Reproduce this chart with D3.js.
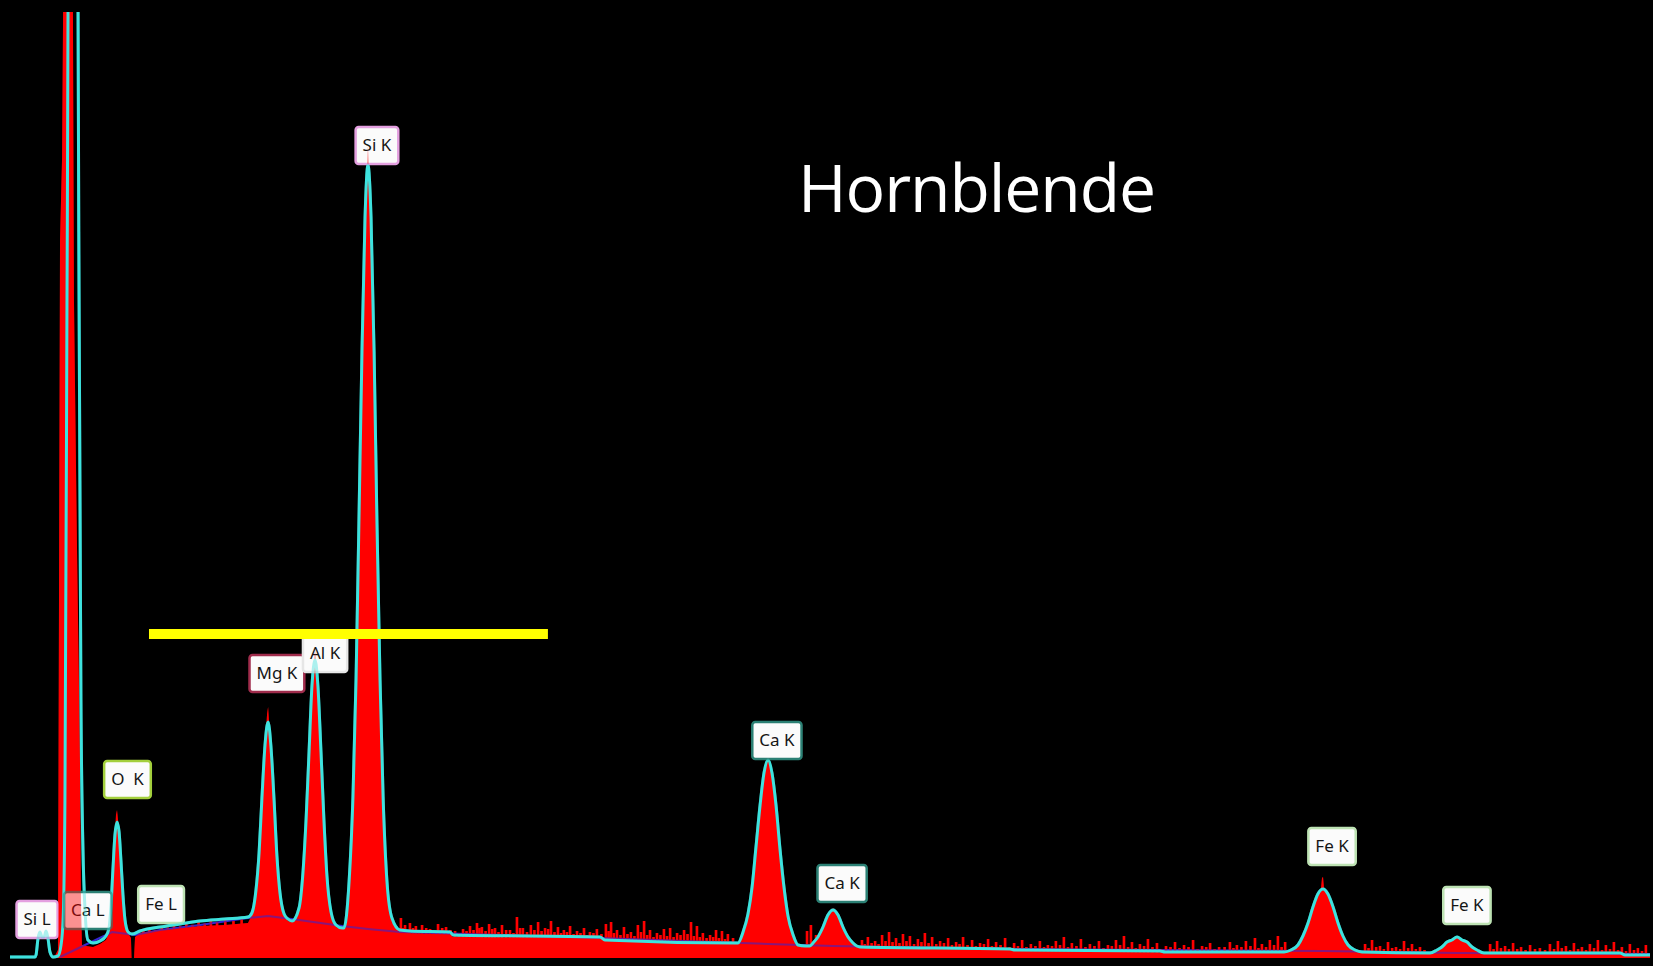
<!DOCTYPE html>
<html>
<head>
<meta charset="utf-8">
<script src="https://cdn.jsdelivr.net/npm/d3@7"></script>
<style>
  html, body { margin: 0; padding: 0; background: #000; overflow: hidden; }
</style>
</head>
<body>
<svg id="chart" width="1653" height="966"></svg>
<script>
// EDS spectrum of hornblende — energy in keV, intensity in counts.

// Measured spectrum (red fill), [keV, counts]
const measured = [
  [0.215,0],[0.224,20],[0.234,40],[0.239,1790],[0.244,3590],[0.254,4000],[0.259,4730],
  [0.283,40000],[0.307,4730],[0.312,3290],[0.327,2040],[0.341,1040],[0.346,290],[0.351,65],
  [0.371,60],[0.405,55],[0.439,70],[0.468,90],[0.483,125],[0.493,265],[0.502,440],[0.512,615],
  [0.517,715],[0.522,740],[0.527,690],[0.532,615],[0.541,480],[0.551,305],[0.561,180],[0.576,125],
  [0.590,100],[0.593,0],[0.605,0],[0.610,105],[0.634,125],[0.732,140],[0.829,150],[0.927,160],
  [1.049,165],[1.161,175],[1.180,215],[1.200,330],[1.215,515],[1.229,790],[1.244,1060],[1.254,1220],
  [1.259,1255],[1.263,1190],[1.273,1050],[1.288,785],[1.302,505],[1.317,320],[1.337,215],[1.356,185],
  [1.376,180],[1.410,245],[1.429,420],[1.444,680],[1.459,1030],[1.473,1355],[1.483,1480],[1.488,1540],
  [1.493,1480],[1.502,1355],[1.517,1025],[1.532,670],[1.546,405],[1.566,225],[1.590,155],[1.620,145],
  [1.629,145],[1.654,375],[1.673,800],[1.688,1385],[1.702,2170],[1.717,3025],[1.732,3700],[1.741,3950],
  [1.746,4060],[1.751,3950],[1.761,3700],[1.776,3025],[1.790,2170],[1.805,1385],[1.820,800],[1.839,375],
  [1.863,195],[1.902,125],[2.146,120],[2.161,105],[2.878,100],[2.902,85],[3.537,70],[3.551,70],
  [3.576,125],[3.600,215],[3.620,350],[3.639,550],[3.659,760],[3.678,920],[3.693,985],[3.698,1000],
  [3.703,985],[3.717,920],[3.737,755],[3.756,540],[3.776,345],[3.795,205],[3.820,110],[3.844,60],
  [3.902,55],[3.917,70],[3.941,100],[3.966,150],[3.990,210],[4.015,250],[4.039,210],[4.063,150],
  [4.088,100],[4.112,70],[4.146,50],[4.878,40],[4.902,35],[5.634,28],[6.215,28],[6.249,35],
  [6.283,60],[6.307,105],[6.332,170],[6.356,250],[6.380,315],[6.395,345],[6.400,400],[6.405,405],
  [6.410,345],[6.429,315],[6.454,250],[6.478,170],[6.502,105],[6.527,60],[6.561,35],[6.595,25],
  [6.927,22],[6.961,40],[6.985,55],[7.010,80],[7.034,92],[7.059,108],[7.083,92],[7.107,80],
  [7.132,55],[7.156,40],[7.190,25],[7.854,22],[7.878,15],[8.0,15]
];

// Single-channel noise spikes on the continuum, [keV, counts]
const noise = [
  [0.65,140],[0.68,150],[0.71,138],[0.74,160],[0.77,152],[0.80,170],[0.83,158],[0.86,178],
  [0.89,166],[0.92,188],[0.95,172],[0.98,192],[1.01,180],[1.05,198],[1.09,186],[1.13,205],
  [1.907,200],[1.927,165],[1.951,175],[1.980,160],[2.010,165],[2.049,145],[2.088,170],[2.127,155],
  [2.171,135],[2.210,145],[2.244,160],[2.278,175],[2.302,155],[2.337,170],[2.366,150],[2.400,165],
  [2.439,140],[2.473,205],[2.502,150],[2.541,165],[2.576,180],[2.610,150],[2.639,185],[2.673,155],
  [2.702,140],[2.732,160],[2.766,135],[2.800,150],[2.829,130],[2.863,145],[2.907,170],[2.932,180],
  [2.961,140],[2.995,155],[3.029,130],[3.063,165],[3.093,185],[3.122,140],[3.156,125],[3.190,145],
  [3.220,150],[3.254,125],[3.288,140],[3.322,180],[3.351,160],[3.380,125],[3.415,115],[3.444,140],
  [3.473,135],[3.502,120],[3.527,100],
  [1.917,150],[1.939,140],[1.966,150],[1.995,140],[2.030,150],[2.068,135],[2.108,150],[2.149,140],
  [2.190,125],[2.227,135],[2.261,140],[2.290,150],[2.320,135],[2.352,145],[2.383,130],[2.420,140],
  [2.456,125],[2.488,150],[2.522,130],[2.558,140],[2.593,135],[2.625,145],[2.656,130],[2.688,125],
  [2.717,130],[2.749,120],[2.783,125],[2.815,115],[2.846,125],[2.885,120],[2.920,135],[2.946,125],
  [2.978,115],[3.012,120],[3.046,110],[3.078,130],[3.108,115],[3.139,105],[3.173,115],[3.205,110],
  [3.237,105],[3.271,115],[3.305,120],[3.336,110],[3.365,105],[3.398,100],[3.430,105],[3.458,100],
  [3.488,95],
  [3.888,135],[3.907,165],[3.932,115],[4.156,90],[4.185,105],[4.220,85],[4.254,115],[4.288,130],
  [4.322,100],[4.356,120],[4.390,110],[4.429,95],[4.463,125],[4.498,105],[4.537,85],[4.576,100],
  [4.615,80],[4.649,105],[4.693,90],[4.732,75],[4.771,95],[4.810,80],[4.854,100],[4.898,75],
  [4.937,90],[4.980,70],[5.024,85],[5.063,65],[5.102,85],[5.141,105],[5.180,75],[5.224,95],
  [5.268,70],[5.312,85],[5.356,65],[5.395,90],[5.434,110],[5.473,80],[5.512,70],[5.551,95],
  [5.595,75],[5.639,60],[5.683,80],[5.727,65],[5.771,90],[5.815,60],[5.854,75],[5.898,55],
  [5.951,80],[5.985,65],[6.029,85],[6.073,100],[6.107,70],[6.146,90],[6.185,110],[6.220,80],
  [4.170,70],[4.203,75],[4.237,70],[4.271,85],[4.305,80],[4.339,75],[4.373,85],[4.410,70],
  [4.446,80],[4.481,75],[4.518,70],[4.556,75],[4.595,65],[4.632,70],[4.671,65],[4.712,60],
  [4.751,70],[4.790,60],[4.832,65],[4.876,55],[4.917,60],[4.958,55],[5.002,60],[5.044,55],
  [5.083,60],[5.122,65],[5.161,55],[5.202,60],[5.246,55],[5.290,60],[5.334,50],[5.375,60],
  [5.415,65],[5.454,55],[5.492,50],[5.532,60],[5.573,55],[5.617,45],[5.661,55],[5.705,50],
  [5.749,55],[5.793,45],[5.835,55],[5.876,45],[5.925,55],[5.968,50],[6.007,55],[6.051,60],
  [6.090,50],[6.127,55],[6.166,65],[6.203,55],
  [6.610,70],[6.644,90],[6.683,60],[6.722,80],[6.761,55],[6.800,85],[6.839,70],[6.878,55],
  [7.220,70],[7.254,85],[7.293,60],[7.332,75],[7.371,55],[7.415,65],[7.463,50],[7.512,70],
  [7.551,85],[7.590,60],[7.629,75],[7.668,55],[7.707,70],[7.746,90],[7.785,65],[7.824,80],
  [7.863,55],[7.902,70],[7.941,50],[7.980,65],
  [6.627,50],[6.664,55],[6.702,45],[6.742,50],[6.781,45],[6.820,50],[6.858,45],[6.900,40],
  [7.237,45],[7.273,50],[7.312,45],[7.352,45],[7.393,40],[7.439,45],[7.488,40],[7.532,45],
  [7.570,50],[7.610,40],[7.649,45],[7.688,40],[7.727,50],[7.766,40],[7.805,45],[7.844,40],
  [7.883,35],[7.922,40],[7.961,35]
];

// Fitted spectrum (cyan line), [keV, counts]
const fitted = [
  [0,5],[0.122,5],[0.127,15],[0.137,100],[0.146,130],[0.156,105],[0.166,105],[0.176,135],
  [0.185,100],[0.195,30],[0.210,5],[0.234,10],[0.249,65],[0.259,190],[0.268,790],[0.278,3290],
  [0.283,4730],[0.307,40000],[0.332,4730],[0.337,3290],[0.346,1290],[0.356,540],[0.366,240],
  [0.380,90],[0.405,75],[0.439,85],[0.468,110],[0.483,150],[0.493,265],[0.502,440],[0.512,615],
  [0.522,680],[0.532,630],[0.541,490],[0.551,315],[0.561,190],[0.576,130],[0.595,120],[0.634,135],
  [0.732,155],[0.829,170],[0.927,185],[1.049,195],[1.161,205],[1.180,225],[1.200,340],[1.215,525],
  [1.229,800],[1.244,1065],[1.259,1180],[1.273,1055],[1.288,790],[1.302,510],[1.317,325],[1.337,220],
  [1.356,195],[1.376,185],[1.410,250],[1.429,425],[1.444,685],[1.459,1035],[1.473,1360],[1.488,1490],
  [1.502,1360],[1.517,1030],[1.532,675],[1.546,410],[1.566,230],[1.590,165],[1.620,150],[1.629,150],
  [1.654,380],[1.673,805],[1.688,1390],[1.702,2175],[1.717,3030],[1.732,3705],[1.746,3965],
  [1.761,3705],[1.776,3030],[1.790,2175],[1.805,1390],[1.820,805],[1.839,380],[1.863,200],
  [1.902,140],[1.951,135],[2.146,130],[2.161,115],[2.878,105],[2.902,90],[3.537,75],[3.551,75],
  [3.576,130],[3.600,220],[3.620,355],[3.639,555],[3.659,765],[3.678,925],[3.698,990],[3.717,925],
  [3.737,760],[3.756,545],[3.776,350],[3.795,210],[3.820,115],[3.844,65],[3.878,60],[3.902,60],
  [3.917,75],[3.941,105],[3.966,155],[3.990,215],[4.015,240],[4.039,215],[4.063,155],[4.088,105],
  [4.112,75],[4.146,55],[4.878,45],[4.902,40],[5.610,35],[5.634,30],[6.215,30],[6.249,40],
  [6.283,65],[6.307,110],[6.332,175],[6.356,255],[6.380,320],[6.405,345],[6.429,320],[6.454,255],
  [6.478,175],[6.502,110],[6.527,65],[6.561,40],[6.595,30],[6.927,25],[6.961,40],[6.985,55],
  [7.010,80],[7.034,90],[7.059,105],[7.083,90],[7.107,80],[7.132,55],[7.156,40],[7.190,25],
  [7.854,25],[7.878,15],[8.0,15]
];

// Bremsstrahlung background model (blue line), [keV, counts]
const background = [
  [0.244,5],[0.366,65],[0.498,130],[0.610,115],[0.732,140],[0.927,165],[1.161,200],[1.259,210],
  [1.410,190],[1.620,160],[1.746,145],[1.902,130],[2.878,100],[3.698,70],[4.015,60],[4.878,45],
  [6.405,35],[7.059,25],[8.0,20]
];

// Peak identification labels
const peakLabels   = ["Si L", "Ca L", "O  K", "Fe L", "Mg K", "Al K", "Si K", "Ca K", "Ca K", "Fe K", "Fe K"];
const labelElement = ["Si", "Ca", "O", "Fe", "Mg", "Al", "Si", "Ca", "Ca", "Fe", "Fe"];
const labelEnergy  = [0.132, 0.380, 0.573, 0.737, 1.302, 1.537, 1.790, 3.741, 4.059, 6.449, 7.107];
const labelCounts  = [100, 145, 800, 175, 1330, 1430, 3970, 995, 280, 465, 170];

// Reference level bar
const levelBar = { from: 0.678, to: 2.624, counts: 1620 };

const titleText = "Hornblende";

// ---- styling ----
const elementColor = {
  Si: "#e4a0e0", Ca: "#2b8074", O: "#a3cf3c", Fe: "#bde2b3", Mg: "#a02c4c", Al: "#e6e6e6"
};
const RED = "#ff0000", CYAN = "#3ee2de", BLUE = "#3526d2", YELLOW = "#ffff00";

const W = 1653, H = 966;
const svg = d3.select("#chart");
svg.append("rect").attr("width", W).attr("height", H).attr("fill", "#000");

const x = d3.scaleLinear().domain([0, 8]).range([10, 1650]);
const y = d3.scaleLinear().domain([0, 4730]).range([958, 12]);

svg.append("defs").append("clipPath").attr("id", "plotClip")
  .append("rect").attr("x", 0).attr("y", y(4730)).attr("width", W).attr("height", H - y(4730));

const area = d3.area().x(d => x(d[0])).y0(y(0)).y1(d => y(d[1])).curve(d3.curveLinear);
const fitLine = d3.line().x(d => x(d[0])).y(d => y(d[1])).curve(d3.curveMonotoneX);
const bgLine = d3.line().x(d => x(d[0])).y(d => y(d[1])).curve(d3.curveLinear);

function drawSpectrum(g) {
  g.append("path").datum(measured).attr("d", area).attr("fill", RED);
  g.selectAll("rect.spike").data(noise).join("rect").attr("class", "spike")
    .attr("x", d => x(d[0]) - 1.25).attr("width", 2.5)
    .attr("y", d => y(d[1])).attr("height", d => y(0) - y(d[1]))
    .attr("fill", RED);
}

const plot = svg.append("g").attr("clip-path", "url(#plotClip)");
drawSpectrum(plot);
plot.append("path").datum(background).attr("d", bgLine)
  .attr("fill", "none").attr("stroke", BLUE).attr("stroke-width", 2);
plot.append("path").datum(fitted).attr("d", fitLine)
  .attr("fill", "none").attr("stroke", CYAN).attr("stroke-width", 3).attr("stroke-linejoin", "round");

// Peak labels
const labels = svg.append("g").selectAll("g").data(peakLabels).join("g")
  .attr("transform", (d, i) => `translate(${x(labelEnergy[i])},${y(labelCounts[i])})`);
const BOX_H = 37;
labels.each(function (d, i) {
  const g = d3.select(this);
  const rect = g.append("rect");
  const t = g.append("text").text(d)
    .attr("text-anchor", "middle").attr("y", -13)
    .attr("font-family", "'Noto Sans', 'Open Sans', sans-serif").attr("font-size", 17)
    .attr("fill", "#151515").style("white-space", "pre");
  const w = t.node().getComputedTextLength() + 14;
  rect.attr("x", -w / 2).attr("y", -BOX_H).attr("width", w).attr("height", BOX_H)
    .attr("rx", 3).attr("fill", "#fbfbfb")
    .attr("stroke", elementColor[labelElement[i]]).attr("stroke-width", 2.5);
  t.raise();
});

// Spectrum shows faintly through the labels
const ghost = svg.append("g").attr("clip-path", "url(#plotClip)").attr("opacity", 0.42);
drawSpectrum(ghost);
ghost.append("path").datum(fitted).attr("d", fitLine)
  .attr("fill", "none").attr("stroke", CYAN).attr("stroke-width", 3);

// Reference level bar
svg.append("line")
  .attr("x1", x(levelBar.from)).attr("x2", x(levelBar.to))
  .attr("y1", y(levelBar.counts)).attr("y2", y(levelBar.counts))
  .attr("stroke", YELLOW).attr("stroke-width", 10);

// Title
svg.append("text").text(titleText)
  .attr("x", 798).attr("y", 212)
  .attr("font-family", "'Open Sans', 'Noto Sans', sans-serif").attr("font-size", 66)
  .attr("fill", "#fff").attr("textLength", 358);
</script>
</body>
</html>
